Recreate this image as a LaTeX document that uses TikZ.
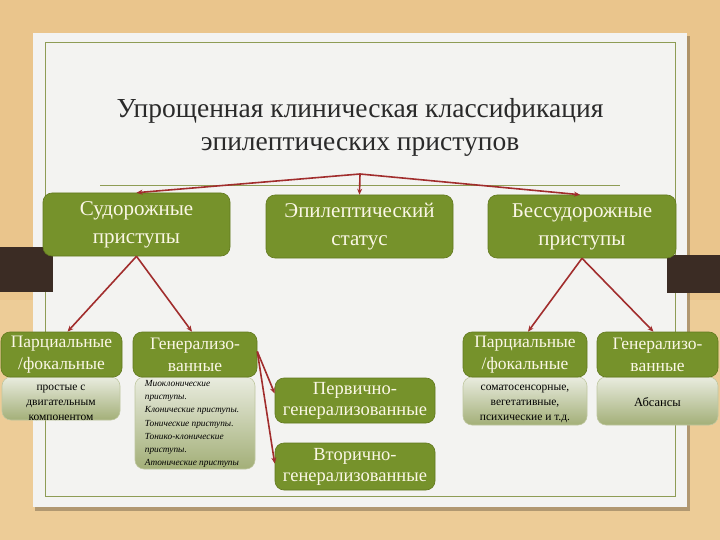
\documentclass[tikz,border=0pt]{standalone}
\usepackage{fontspec}
\setmainfont{Liberation Serif}
\usetikzlibrary{arrows.meta}
\definecolor{wood}{HTML}{EAC58C}
\definecolor{woodlight}{HTML}{F0D3A2}
\definecolor{slide}{HTML}{F3F3F1}
\definecolor{frameol}{HTML}{8E9C55}
\definecolor{olivebox}{HTML}{76922B}
\definecolor{olivedark}{HTML}{62791F}
\definecolor{cream}{HTML}{FBF7E6}
\definecolor{lighttop}{HTML}{E9ECDF}
\definecolor{lightbot}{HTML}{A3AF78}
\definecolor{arrowred}{HTML}{A12D2D}
\definecolor{tab}{HTML}{3B2C24}
\definecolor{titlecol}{HTML}{2A2A2A}
\begin{document}
\begin{tikzpicture}[x=1pt,y=-1pt,
  darkbox/.style={draw=olivedark, line width=0.6pt, fill=olivebox, rounded corners=9pt,
    text=cream, align=center, inner sep=0pt},
  lightbox/.style={draw=lightbot!70!white, line width=0.6pt, top color=lighttop, bottom color=lightbot,
    rounded corners=9pt, inner sep=0pt},
  lighttext/.style={text=black, align=center, inner sep=0pt},
  conn/.style={draw=arrowred, line width=1.6pt, -{Stealth[length=6pt,width=5pt]}},
  bigfont/.style={font=\fontsize{21}{28}\selectfont},
  midfont/.style={font=\fontsize{17.5}{22}\selectfont},
  smallfont/.style={font=\fontsize{11.5}{15}\selectfont},
  tinyfont/.style={font=\itshape\fontsize{9.3}{13.3}\selectfont}]
\useasboundingbox (0,0) rectangle (720,540);
% background
\fill[wood] (0,0) rectangle (720,540);
\fill[woodlight, opacity=0.5] (0,300) rectangle (720,540);
% slide shadow and slide
\fill[black, opacity=0.25] (35,36) rectangle (690,511);
\fill[slide] (33,33) rectangle (687,507);
\draw[frameol, line width=0.8pt] (45,42) rectangle (675,496);
% tabs
\fill[tab] (0,247) rectangle (53,292);
\fill[tab] (667,255) rectangle (720,293);
% title
\node[text=titlecol, font=\fontsize{27.5}{33}\selectfont, align=center] (title) at (360,127)
  {Упрощенная клиническая классификация\\эпилептических приступов};
\draw[frameol, line width=0.6pt] (100,185) -- (620,185);
% top boxes
\node[darkbox, bigfont, minimum width=187pt, minimum height=63pt] (sud) at (136.5,224.5) {Судорожные\\приступы};
\node[darkbox, bigfont, minimum width=187pt, minimum height=63pt] (epi) at (359.5,226.5) {Эпилептический\\статус};
\node[darkbox, bigfont, minimum width=188pt, minimum height=63pt] (bess) at (582,226.5) {Бессудорожные\\приступы};
% light boxes
\node[lightbox, minimum width=118pt, minimum height=43pt] (l1) at (61,398.5) {};
\node[lighttext, smallfont] (l1t) at (61,403) {простые с\\двигательным\\компонентом};
\node[lightbox, minimum width=120pt, minimum height=92pt] (l2) at (195,423) {};
\node[lighttext, tinyfont, align=left] (l2t) at (192,424)
  {Миоклонические\\приступы.\\Клонические приступы.\\Тонические приступы.\\Тонико-клонические\\приступы.\\Атонические приступы};
\node[lightbox, minimum width=124pt, minimum height=48pt] (l3) at (525,401) {};
\node[lighttext, smallfont] (l3t) at (525,404) {соматосенсорные,\\вегетативные,\\психические и т.д.};
\node[lightbox, minimum width=121pt, minimum height=48pt] (l4) at (657.5,401) {};
\node[lighttext, font=\fontsize{12.5}{15}\selectfont] (l4t) at (657.5,402) {Абсансы};
% second level
\node[darkbox, midfont, minimum width=121pt, minimum height=45pt] (p1) at (61.5,354.5) {Парциальные\\/фокальные};
\node[darkbox, midfont, minimum width=124pt, minimum height=45pt] (g1) at (195,354.5) {Генерализо-\\ванные};
\node[darkbox, midfont, minimum width=124pt, minimum height=45pt] (p2) at (525,354.5) {Парциальные\\/фокальные};
\node[darkbox, midfont, minimum width=121pt, minimum height=45pt] (g2) at (657.5,354.5) {Генерализо-\\ванные};
\node[darkbox, font=\fontsize{18.5}{21}\selectfont, minimum width=160pt, minimum height=45pt] (prim) at (355,400.5) {Первично-\\генерализованные};
\node[darkbox, font=\fontsize{18.5}{21}\selectfont, minimum width=160pt, minimum height=47pt] (vtor) at (355,466.5) {Вторично-\\генерализованные};
% connectors
\coordinate (apex) at (360,174);
\draw[conn] (apex) -- (sud.north);
\draw[conn] (apex) -- (epi.north);
\draw[conn] (apex) -- ([xshift=-2pt]bess.north);
\draw[conn] (sud.south) -- ([xshift=6pt]p1.north);
\draw[conn] (sud.south) -- ([xshift=-3pt]g1.north);
\draw[conn] (bess.south) -- ([xshift=3pt]p2.north);
\draw[conn] (bess.south) -- ([xshift=-4pt]g2.north);
\draw[conn] ([yshift=3pt]g1.east) -- ([yshift=7pt]prim.west);
\draw[conn] ([yshift=3pt]g1.east) -- ([yshift=3pt]vtor.west);
\end{tikzpicture}
\end{document}
